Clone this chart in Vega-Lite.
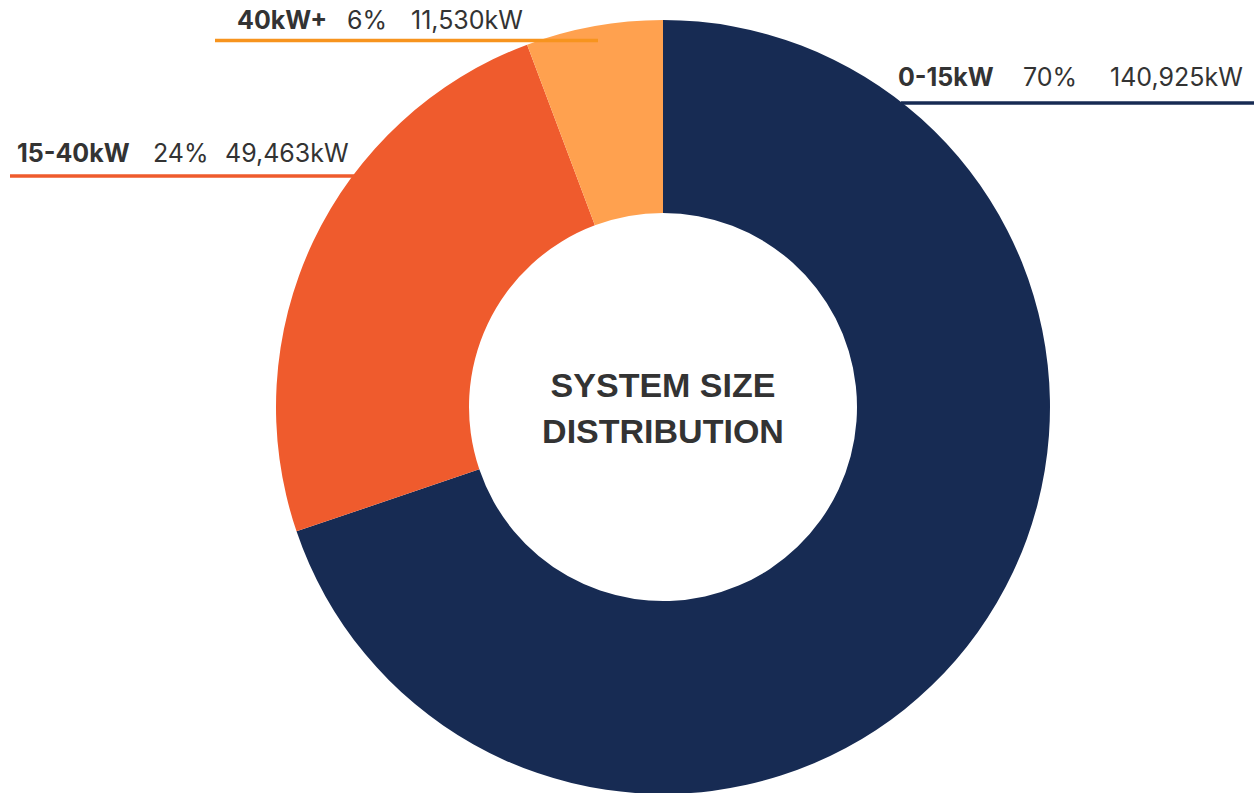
{
  "$schema": "https://vega.github.io/schema/vega-lite/v6.json",
  "autosize": {"type": "none"},
  "padding": {"left": 72, "top": 21, "right": 0, "bottom": 0},
  "width": 1182,
  "height": 772,
  "background": "white",
  "view": {"stroke": null},
  "config": {"font": "Inter", "text": {"font": "Inter"}},
  "datasets": {
    "segments": [
      {"size": "0-15kW", "kW": 140925, "share": 0.70, "rank": 1},
      {"size": "15-40kW", "kW": 49463, "share": 0.24, "rank": 2},
      {"size": "40kW+", "kW": 11530, "share": 0.06, "rank": 3}
    ],
    "annotations": [
      {"size": "0-15kW", "lineX": 0.615, "lineX2": 1.53, "lineY": 0.7855, "textY": 0.8295, "nameX": 0.6072, "shareX": 0.9302, "kwX": 1.155},
      {"size": "15-40kW", "lineX": -1.6873, "lineX2": -0.7933, "lineY": 0.5969, "textY": 0.6331, "nameX": -1.6693, "shareX": -1.3178, "kwX": -1.1318},
      {"size": "40kW+", "lineX": -1.1576, "lineX2": -0.168, "lineY": 0.947, "textY": 0.9767, "nameX": -1.1008, "shareX": -0.8165, "kwX": -0.6512}
    ]
  },
  "resolve": {"scale": {"color": "independent"}},
  "layer": [
    {
      "data": {"name": "segments"},
      "mark": {"type": "arc", "outerRadius": 387, "innerRadius": 194},
      "encoding": {
        "theta": {"field": "kW", "type": "quantitative", "stack": true},
        "order": {"field": "rank", "type": "quantitative", "sort": "ascending"},
        "color": {
          "field": "size", "type": "nominal", "legend": null,
          "scale": {"domain": ["0-15kW", "15-40kW", "40kW+"], "range": ["#172B53", "#EF5B2D", "#FFA14F"]}
        }
      }
    },
    {
      "data": {"name": "annotations"},
      "mark": {"type": "rule", "strokeWidth": 3.5},
      "encoding": {
        "x": {"field": "lineX", "type": "quantitative", "axis": null, "scale": {"domain": [-1.5271, 1.5271], "nice": false, "zero": false}},
        "x2": {"field": "lineX2"},
        "y": {"field": "lineY", "type": "quantitative", "axis": null, "scale": {"domain": [-0.99742, 0.99742], "nice": false, "zero": false}},
        "color": {
          "field": "size", "type": "nominal", "legend": null,
          "scale": {"domain": ["0-15kW", "15-40kW", "40kW+"], "range": ["#172B53", "#EF5B2D", "#F7941E"]}
        }
      }
    },
    {
      "data": {"name": "annotations"},
      "mark": {"type": "text", "align": "left", "baseline": "alphabetic", "fontSize": 25, "fontWeight": "bold", "color": "#333333"},
      "encoding": {
        "x": {"field": "nameX", "type": "quantitative", "axis": null, "scale": {"domain": [-1.5271, 1.5271], "nice": false, "zero": false}},
        "y": {"field": "textY", "type": "quantitative", "axis": null, "scale": {"domain": [-0.99742, 0.99742], "nice": false, "zero": false}},
        "text": {"field": "size"}
      }
    },
    {
      "data": {"name": "annotations"},
      "transform": [
        {"lookup": "size", "from": {"data": {"name": "segments"}, "key": "size", "fields": ["share"]}}
      ],
      "mark": {"type": "text", "align": "left", "baseline": "alphabetic", "fontSize": 25, "fontWeight": "normal", "color": "#333333"},
      "encoding": {
        "x": {"field": "shareX", "type": "quantitative", "axis": null, "scale": {"domain": [-1.5271, 1.5271], "nice": false, "zero": false}},
        "y": {"field": "textY", "type": "quantitative", "axis": null, "scale": {"domain": [-0.99742, 0.99742], "nice": false, "zero": false}},
        "text": {"field": "share", "type": "quantitative", "format": ".0%"}
      }
    },
    {
      "data": {"name": "annotations"},
      "transform": [
        {"lookup": "size", "from": {"data": {"name": "segments"}, "key": "size", "fields": ["kW"]}},
        {"calculate": "format(datum.kW, ',') + 'kW'", "as": "kWLabel"}
      ],
      "mark": {"type": "text", "align": "left", "baseline": "alphabetic", "fontSize": 25, "fontWeight": "normal", "color": "#333333"},
      "encoding": {
        "x": {"field": "kwX", "type": "quantitative", "axis": null, "scale": {"domain": [-1.5271, 1.5271], "nice": false, "zero": false}},
        "y": {"field": "textY", "type": "quantitative", "axis": null, "scale": {"domain": [-0.99742, 0.99742], "nice": false, "zero": false}},
        "text": {"field": "kWLabel"}
      }
    },
    {
      "data": {"values": [{"title": "SYSTEM SIZE DISTRIBUTION"}]},
      "mark": {"type": "text", "align": "center", "baseline": "alphabetic", "font": "Liberation Sans", "fontSize": 34, "fontWeight": "bold", "color": "#333333", "lineHeight": 46, "text": ["SYSTEM SIZE", "DISTRIBUTION"]},
      "encoding": {
        "x": {"datum": 0, "type": "quantitative", "axis": null, "scale": {"domain": [-1.5271, 1.5271], "nice": false, "zero": false}},
        "y": {"datum": 0.0258, "type": "quantitative", "axis": null, "scale": {"domain": [-0.99742, 0.99742], "nice": false, "zero": false}}
      }
    }
  ]
}
